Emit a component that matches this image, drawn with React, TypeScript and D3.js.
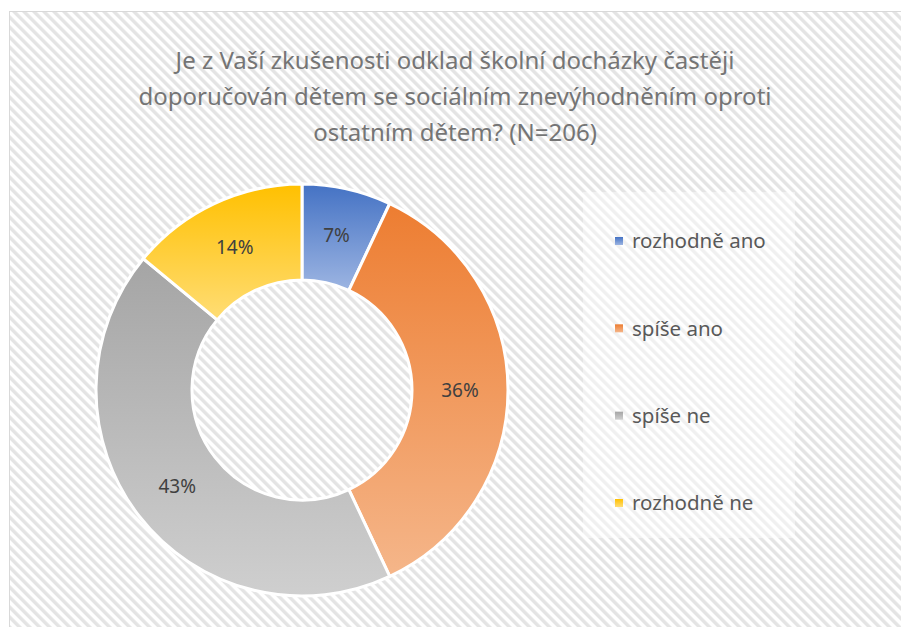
import React from "react";
import * as d3 from "d3";

const categories = ["rozhodně ano", "spíše ano", "spíše ne", "rozhodně ne"];
const values = [7, 36, 43, 14];
const labels = ["7%", "36%", "43%", "14%"];
const colorsTop = ["#4472C4", "#ED7D31", "#A5A5A5", "#FFC000"];
const colorsBottom = ["#9DB5E2", "#F5B68A", "#CFCFCF", "#FFDD75"];
const titleLines = [
  "Je z Vaší zkušenosti odklad školní docházky častěji",
  "doporučován dětem se sociálním znevýhodněním oproti",
  "ostatním dětem? (N=206)",
];

const W = 901;
const H = 627;
const cx = 302;
const cy = 390;
const outerR = 206;
const innerR = 110;
const FONT = "'Noto Sans', 'Open Sans', sans-serif";

export default function App() {
  const pie = d3.pie<number>().sort(null).value((d) => d)(values);
  const arc = d3.arc<d3.PieArcDatum<number>>().innerRadius(innerR).outerRadius(outerR);
  const labelArc = d3
    .arc<d3.PieArcDatum<number>>()
    .innerRadius((innerR + outerR) / 2)
    .outerRadius((innerR + outerR) / 2);
  const legendY = d3.scalePoint<string>().domain(categories).range([241, 503]);

  return (
    <svg
      width={W}
      height={H}
      style={{ position: "absolute", left: 0, top: 0 }}
      xmlns="http://www.w3.org/2000/svg"
    >
      <defs>
        <pattern
          id="hatch"
          patternUnits="userSpaceOnUse"
          width={7.07}
          height={7.07}
          patternTransform="rotate(-45)"
        >
          <rect width={7.07} height={7.07} fill="#ffffff" />
          <rect width={3.4} height={7.07} fill="#E4E4E4" />
        </pattern>
        {colorsTop.map((c, i) => (
          <linearGradient key={i} id={`g${i}`} x1="0" y1="0" x2="0" y2="1">
            <stop offset="0" stopColor={c} />
            <stop offset="1" stopColor={colorsBottom[i]} />
          </linearGradient>
        ))}
      </defs>
      <rect x={0} y={0} width={W} height={H} fill="#ffffff" />
      <rect x={9.5} y={11.5} width={W} height={H} fill="url(#hatch)" stroke="#D9D9D9" strokeWidth={1} />
      <rect x={583} y={192} width={212} height={346} fill="#ffffff" opacity={0.45} />

      {titleLines.map((t, i) => (
        <text
          key={i}
          x={455}
          y={69 + i * 36}
          textAnchor="middle"
          fontFamily={FONT}
          fontSize={24}
          fill="#757575"
        >
          {t}
        </text>
      ))}

      <g transform={`translate(${cx},${cy})`}>
        {pie.map((p, i) => (
          <path key={i} d={arc(p) || ""} fill={`url(#g${i})`} stroke="#ffffff" strokeWidth={3} />
        ))}
        {pie.map((p, i) => {
          const [x, y] = labelArc.centroid(p);
          return (
            <text
              key={i}
              x={x}
              y={y}
              dy="0.35em"
              textAnchor="middle"
              fontFamily={FONT}
              fontSize={19}
              fill="#404040"
            >
              {labels[i]}
            </text>
          );
        })}
      </g>

      {categories.map((c, i) => (
        <g key={c} transform={`translate(0,${legendY(c)})`}>
          <rect x={615} y={-4} width={8} height={8} fill={`url(#g${i})`} />
          <text x={632} y={0} dy="0.35em" fontFamily={FONT} fontSize={20.5} fill="#595959">
            {c}
          </text>
        </g>
      ))}
    </svg>
  );
}
